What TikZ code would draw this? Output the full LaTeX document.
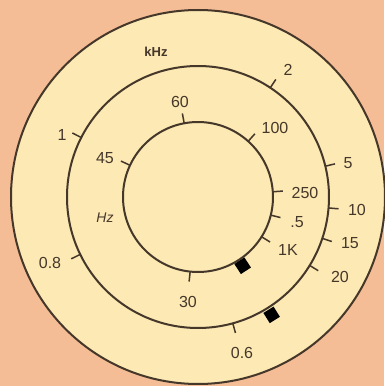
\documentclass[tikz,border=0pt]{standalone}
\usepackage{fontspec}
\setmainfont{Liberation Sans}
\definecolor{bg}{HTML}{F5BD95}
\definecolor{disc}{HTML}{FCE9B4}
\definecolor{ink}{HTML}{45372A}
\begin{document}
\begin{tikzpicture}[x=1pt,y=1pt,
  ring/.style={draw=ink,line width=2pt},
  tick/.style={draw=ink,line width=1.5pt},
  lbl/.style={text=ink,font=\fontsize{16}{18}\selectfont,inner sep=0pt},
  marker/.style={fill=black,minimum size=12pt,inner sep=0pt}]
\fill[bg] (-198,-189) rectangle (186,197);
\useasboundingbox (-198,-189) rectangle (186,197);
\fill[disc] (0,0) circle (187);
\draw[ring] (0,0) circle (187);
\draw[ring] (0,0) circle (131);
\draw[ring] (0,0) circle (75);
% ticks on middle ring
\foreach \a in {153,56.5,13.6,-4.8,-18.4,-31.5,-74.6,-154}
  \draw[tick] (\a:131) -- (\a:141);
% ticks on inner ring
\foreach \a in {100.6,48,155,4,-14,-32,-96}
  \draw[tick] (\a:75) -- (\a:85);
% markers
\node[marker,rotate=-58] (mk1) at (-58:139) {};
\node[marker,rotate=-57] (mk2) at (-57:82) {};
% labels middle ring
\node[lbl,font=\fontsize{13}{15}\selectfont\bfseries] (khz) at (-42,145) {kHz};
\node[lbl] (l1) at (-136,62) {1};
\node[lbl] (l2) at (90,127) {2};
\node[lbl] (l5) at (150,34) {5};
\node[lbl] (l10) at (159,-13) {10};
\node[lbl] (l15) at (152,-46) {15};
\node[lbl] (l20) at (142,-80) {20};
\node[lbl] (l06) at (44,-156) {0.6};
\node[lbl] (l08) at (-148,-66) {0.8};
% labels inner ring
\node[lbl] (l60) at (-18,95) {60};
\node[lbl] (l100) at (77,69) {100};
\node[lbl] (l45) at (-93,39) {45};
\node[lbl,font=\fontsize{14}{16}\selectfont\itshape] (lhz) at (-93,-21) {Hz};
\node[lbl] (l250) at (107,4) {250};
\node[lbl] (l5b) at (99,-25) {.5};
\node[lbl] (l1k) at (90,-53) {1K};
\node[lbl] (l30) at (-10,-105) {30};
\end{tikzpicture}
\end{document}
